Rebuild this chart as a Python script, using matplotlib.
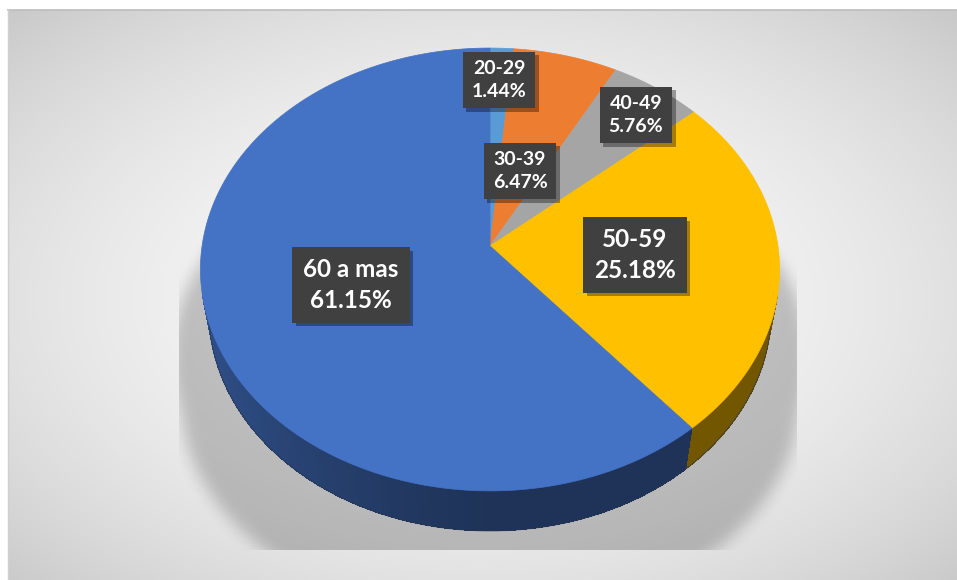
import numpy as np
import matplotlib.pyplot as plt
from matplotlib.patches import Polygon
from matplotlib.collections import PolyCollection
from matplotlib.path import Path
import matplotlib.patheffects as pe

categories = ['20-29', '30-39', '40-49', '50-59', '60 a mas']
percentages = [1.44, 6.47, 5.76, 25.18, 61.15]
colors = ['#5B9BD5', '#ED7D31', '#A5A5A5', '#FFC000', '#4472C4']

# label box centres (pixels) and font sizes
label_xy = [(499, 80), (520, 171), (636, 115), (635, 255), (351, 285)]
label_size = [14, 14, 14, 17.5, 17.5]

W, H = 957, 580

# perspective view of the pie
CX, CY = 490, 246
TILT = np.radians(49.5)
DIST = 6.13
FOCAL = 1765
THICK = 0.236


def project(theta, h=0.0):
    # theta: clockwise from 12 o'clock, h: depth below the top face
    u = np.sin(theta)
    v = -np.cos(theta)
    s, c = np.sin(TILT), np.cos(TILT)
    z = -h
    depth = DIST - v * c - z * s
    x = CX + FOCAL * u / depth
    y = CY - FOCAL * (-v * s + z * c) / depth
    return x, y


def blur1d(a, r, axis):
    a = np.moveaxis(a, axis, -1)
    p = np.pad(a, [(0, 0), (r + 1, r)], mode='edge')
    cs = np.cumsum(p, axis=-1)
    out = (cs[:, 2 * r + 1:] - cs[:, :-2 * r - 1]) / (2 * r + 1)
    return np.moveaxis(out, -1, axis)


def blur(a, r, passes=3):
    for _ in range(passes):
        a = blur1d(a, r, 0)
        a = blur1d(a, r, 1)
    return a


fig = plt.figure(figsize=(W / 100, H / 100), dpi=100)
ax = fig.add_axes([0, 0, 1, 1])
ax.set_xlim(0, W)
ax.set_ylim(H, 0)
ax.axis('off')

# radial grey background
xx, yy = np.meshgrid(np.arange(W) + 0.5, np.arange(H) + 0.5)
t2 = ((xx - 480) / 480) ** 2 + ((yy - 300) / 290) ** 2
bg = np.clip(0.975 - 0.095 * t2, 0, 1)
bg_img = np.dstack([bg, bg, bg])
bg_img[yy < 10] = 1.0
bg_img[xx < 8] = 1.0
ax.imshow(bg_img, extent=(0, W, H, 0), zorder=0, interpolation='bilinear')
ax.plot([8, W], [10, 10], color='#bcbcbc', lw=1.2, zorder=1)
ax.plot([8, 8], [10, H], color='#d0d0d0', lw=1.0, zorder=1)

# soft shadow under the pie
full = np.linspace(0, 2 * np.pi, 361)
tx, ty = project(full, 0.0)
bx, by = project(full, THICK)
pts = np.column_stack([xx.ravel(), yy.ravel()])
mask = np.zeros(xx.size, dtype=float)
for px, py in [(tx, ty), (bx, by)]:
    sx = CX + (px - CX) * 1.1
    sy = CY + (py - CY) * 1.0 + 88
    mask = np.maximum(mask, Path(np.column_stack([sx, sy])).contains_points(pts))
mask = blur(mask.reshape(xx.shape), 7)
alpha = mask * 0.21
alpha[(xx < 179) | (xx > 797) | (yy > 550)] = 0
shadow = np.zeros((H, W, 4))
shadow[..., 3] = alpha
ax.imshow(shadow, extent=(0, W, H, 0), zorder=2, interpolation='bilinear')

# slice angles
fracs = np.array(percentages) / np.sum(percentages)
edges = np.concatenate([[0], np.cumsum(fracs)]) * 2 * np.pi
vis = 1 / (DIST * np.cos(TILT))

# outer side wall, shaded darker towards the front and right
quads, shades = [], []
for i, col in enumerate(colors):
    base = np.array(plt.matplotlib.colors.to_rgb(col))
    steps = max(int(2 * np.degrees(edges[i + 1] - edges[i])), 2)
    th = np.linspace(edges[i], edges[i + 1], steps + 1)
    for a0, a1 in zip(th[:-1], th[1:]):
        am = 0.5 * (a0 + a1)
        if -np.cos(am) < vis - 0.03:
            continue
        f = 0.45 + 0.25 * max(0.0, -np.sin(am)) ** 1.3
        x0, y0 = project(a0, 0)
        x1, y1 = project(a1, 0)
        x2, y2 = project(a1, THICK)
        x3, y3 = project(a0, THICK)
        quads.append([(x0, y0), (x1, y1), (x2, y2), (x3, y3)])
        shades.append(base * f)
ax.add_collection(PolyCollection(quads, facecolors=shades, edgecolors='none',
                                 antialiased=False, zorder=3))
# smooth the lower rim of the wall
front = np.linspace(np.pi / 2, 3 * np.pi / 2, 200)
fx, fy = project(front, THICK)
ax.plot(fx, fy, color='#2a3550', lw=0.8, alpha=0.6, zorder=3)

# top face
for i, col in enumerate(colors):
    th = np.linspace(edges[i], edges[i + 1], max(int(np.degrees(edges[i + 1] - edges[i])) * 2, 4))
    px, py = project(th, 0)
    poly = [(CX, CY)] + list(zip(px, py))
    ax.add_patch(Polygon(poly, closed=True, fc=col, ec=col, lw=0.5, zorder=4))

# data labels
for cat, pct, (lx, ly), fs in zip(categories, percentages, label_xy, label_size):
    ax.text(lx, ly, f'{cat}\n{pct:.2f}%', ha='center', va='center',
            color='white', fontsize=fs, fontweight='bold', family='Lato',
            linespacing=1.38, zorder=6,
            bbox=dict(boxstyle='square,pad=0.45', fc='#404040', ec='none',
                      path_effects=[pe.SimplePatchShadow(offset=(2.5, -2.5), shadow_rgbFace='k', alpha=0.35),
                                    pe.Normal()]))

fig.savefig('out.png', dpi=100)
